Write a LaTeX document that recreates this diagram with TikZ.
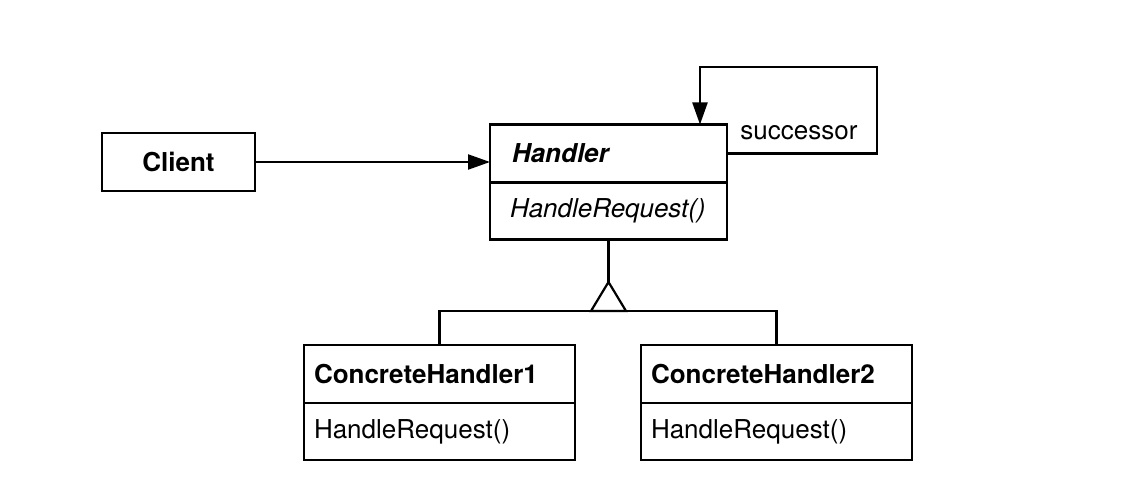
\documentclass[tikz,border=0pt]{standalone}
\usepackage{fontspec}
\setmainfont{TeX Gyre Heros}
\newcommand{\umlsize}{\fontsize{13}{15}\selectfont}
\usetikzlibrary{arrows.meta, positioning}
\tikzset{
  classbox/.style={rectangle, draw, line width=1.2pt, outer sep=0pt, inner xsep=5pt, align=left, text width=125.5pt, font=\umlsize},
  namebox/.style={classbox, minimum height=29pt, font=\umlsize\bfseries},
  opbox/.style={classbox, minimum height=28.5pt},
  clientbox/.style={rectangle, draw, line width=1.2pt, outer sep=0pt, minimum width=76.5pt, minimum height=29pt, font=\umlsize\bfseries},
  assoc/.style={-{Triangle[length=11pt, width=7.5pt]}, line width=1.1pt},
  inherit/.style={line width=1.1pt}
}

\begin{document}
\begin{tikzpicture}
  \fill[white] (0,0) rectangle (566pt,-246pt);
  \useasboundingbox (0,0) rectangle (566pt,-246pt);
  \node[clientbox] (client) at (89.25pt,-81pt) {Client};
  \node[namebox, text width=96.5pt, inner xsep=11pt, font=\umlsize\bfseries\itshape] (hname) at (304.25pt,-76.75pt) {Handler};
  \node[opbox, text width=98.5pt, inner xsep=10pt, font=\umlsize\itshape, below=0pt of hname] (hop) {HandleRequest()};
  \node[namebox] (ch1name) at (219.75pt,-187pt) {ConcreteHandler1};
  \node[opbox, below=0pt of ch1name] (ch1op) {HandleRequest()};
  \node[namebox] (ch2name) at (388.25pt,-187pt) {ConcreteHandler2};
  \node[opbox, below=0pt of ch2name] (ch2op) {HandleRequest()};
  \node[font=\umlsize] (succ) at (399.5pt,-66.5pt) {successor};
  % client -> handler
  \draw[assoc] (client.east) -- (client.east -| hname.west);
  % successor loop
  \coordinate (loopne) at (438.5pt,-33.5pt);
  \coordinate (loopnw) at (350pt,-33.5pt);
  \draw[assoc] (hname.east) -| (loopne) -- (loopnw) -- (loopnw |- hname.north);
  % inheritance
  \coordinate (apex) at (hop.south |- 0,-141pt);
  \coordinate (bar) at (hop.south |- 0,-155.5pt);
  \draw[inherit] (hop.south) -- (apex);
  \draw[inherit] (apex) -- ++(-8.75pt,-14.5pt) -- ++(17.5pt,0) -- cycle;
  \draw[inherit] (ch1name.north) |- (bar) -| (ch2name.north);
\end{tikzpicture}
\end{document}
